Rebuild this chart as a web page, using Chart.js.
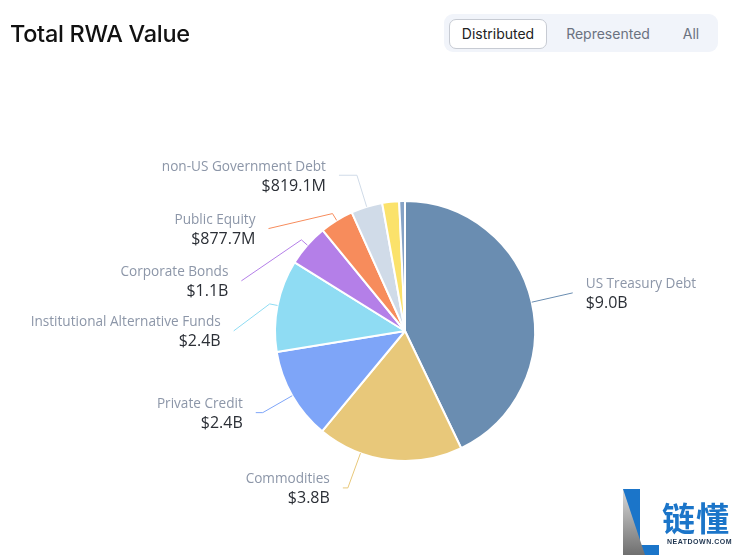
<!DOCTYPE html>
<html>
<head>
<meta charset="utf-8">
<script src="https://cdn.jsdelivr.net/npm/chart.js@4"></script>
<style>
  html, body { margin:0; padding:0; background:#fff; width:736px; height:558px; overflow:hidden; position:relative; font-family: Inter, "Open Sans", sans-serif; }
  #title { position:absolute; left:10px; top:19px; font-size:23.5px; font-weight:500; color:#111; letter-spacing:-0.3px; }
  #toggle { position:absolute; left:444px; top:14px; width:274px; height:38px; background:#f1f4fa; border-radius:9px; }
  .btn { position:absolute; top:5px; height:29px; line-height:29px; font-size:14px; text-align:center; color:#6b7280; }
  #b1 { left:5px; width:96px; background:#fff; border:1px solid #c7cbd3; border-radius:7px; color:#222; height:28px; line-height:28px; }
  #b2 { left:112px; width:104px; }
  #b3 { left:230px; width:34px; }
  canvas { position:absolute; left:0; top:0; }
  #wm-blue { position:absolute; left:623px; top:489px; width:17px; height:66px; background:#1b75c9; }
  #wm-blue2 { position:absolute; left:639px; top:545px; width:20px; height:10px; background:#1b75c9; }
  #wm-gray { position:absolute; left:623px; top:489px; width:22px; height:66px; background:linear-gradient(#d9d9d9, #6f6f6f); clip-path:polygon(0 0, 100% 100%, 0 100%); }
  #wm-cn { position:absolute; left:662px; top:497px; font-family:"Noto Sans CJK SC"; font-weight:700; font-size:33px; line-height:40px; color:#1b75c9; letter-spacing:1px; }
  #wm-en { position:absolute; left:667px; top:538px; font-family:"Liberation Sans"; font-weight:700; font-size:7px; color:#1f3550; letter-spacing:0.5px; }
</style>
</head>
<body>
<canvas id="c" width="736" height="558"></canvas>
<div id="title">Total RWA Value</div>
<div id="toggle">
  <div class="btn" id="b1">Distributed</div>
  <div class="btn" id="b2">Represented</div>
  <div class="btn" id="b3">All</div>
</div>
<div id="wm-blue"></div><div id="wm-blue2"></div><div id="wm-gray"></div>
<div id="wm-cn">链懂</div>
<div id="wm-en">NEATDOWN.COM</div>
<script>
// ---- data (billions USD) ----
const categories = [
  "US Treasury Debt",
  "Commodities",
  "Private Credit",
  "Institutional Alternative Funds",
  "Corporate Bonds",
  "Public Equity",
  "non-US Government Debt",
  "Private Equity",
  "Actively-Managed Strategies"
];
const values = [9.0, 3.8, 2.4, 2.4, 1.1, 0.8777, 0.8191, 0.44, 0.15];
const showLabel = [true, true, true, true, true, true, true, false, false];

// ---- styles ----
const colors = ["#6a8db1", "#e8c87a", "#7ea5f8", "#8fdcf3", "#b47fe8", "#f78c5c", "#d0dbe8", "#fbe26b", "#86a3c6"];
const labelLayout = [
  {frac:0.5, len1:42, dx:0,   dy:0,  side:"right"},
  {frac:0.7, len1:37, dx:-5,  dy:0,  side:"left"},
  {frac:0.5, len1:34, dx:-7,  dy:0,  side:"left"},
  {frac:0.5, len1:8,  dx:-36, dy:27, side:"left"},
  {frac:0.5, len1:8,  dx:-60, dy:41, side:"left"},
  {frac:0.5, len1:8,  dx:-64, dy:15, side:"left"},
  {frac:0.5, len1:33, dx:-18, dy:0,  side:"left"},
  null, null
];

function fmt(v) {
  return v >= 1 ? "$" + v.toFixed(1) + "B" : "$" + (v * 1000).toFixed(1) + "M";
}

const calloutPlugin = {
  id: "callouts",
  afterDatasetsDraw(chart) {
    const ctx = chart.ctx;
    const meta = chart.getDatasetMeta(0);
    meta.data.forEach((arc, i) => {
      const L = labelLayout[i];
      if (!showLabel[i] || !L) return;
      const p = arc.getProps(["x", "y", "startAngle", "endAngle", "outerRadius"], true);
      const a = p.startAngle + L.frac * (p.endAngle - p.startAngle);
      const cx = Math.cos(a), sy = Math.sin(a);
      const x0 = p.x + cx * p.outerRadius, y0 = p.y + sy * p.outerRadius;
      const x1 = x0 + cx * L.len1, y1 = y0 + sy * L.len1;
      const x2 = x1 + L.dx, y2 = y1 + L.dy;
      ctx.save();
      ctx.strokeStyle = colors[i];
      ctx.lineWidth = 1;
      ctx.beginPath();
      ctx.moveTo(x0, y0); ctx.lineTo(x1, y1); ctx.lineTo(x2, y2);
      ctx.stroke();
      const right = L.side === "right";
      const tx = right ? x2 + 13 : x2 - 13;
      ctx.textAlign = right ? "left" : "right";
      ctx.textBaseline = "middle";
      ctx.font = '13.6px "Open Sans", sans-serif';
      ctx.fillStyle = "#8c96a8";
      ctx.fillText(categories[i], tx, y2 - 8.5);
      ctx.font = '16px "Open Sans", sans-serif';
      ctx.fillStyle = "#2b2f36";
      ctx.fillText(fmt(values[i]), tx, y2 + 11);
      ctx.restore();
    });
  }
};

new Chart(document.getElementById("c"), {
  type: "pie",
  data: {
    labels: categories,
    datasets: [{
      data: values,
      backgroundColor: colors,
      borderColor: "#ffffff",
      borderWidth: 2
    }]
  },
  options: {
    responsive: false,
    animation: false,
    events: [],
    layout: { padding: { left: 274, right: 200, top: 200, bottom: 96 } },
    plugins: { legend: { display: false }, tooltip: { enabled: false } }
  },
  plugins: [calloutPlugin]
});
</script>
</body>
</html>
